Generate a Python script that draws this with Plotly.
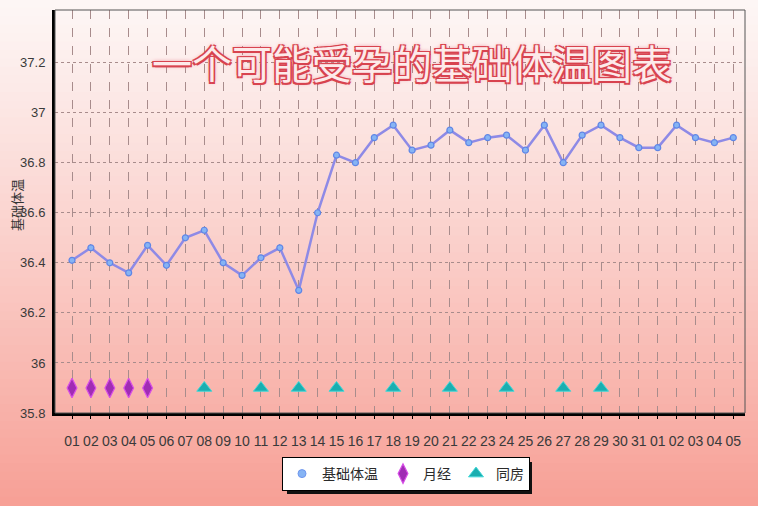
import plotly.graph_objects as go

# day labels (cycle runs from 01 to 31 and then into the next month 01..05)
days = [f"{d:02d}" for d in range(1, 32)] + [f"{d:02d}" for d in range(1, 6)]
temps = [36.41, 36.46, 36.40, 36.36, 36.47, 36.39, 36.50, 36.53, 36.40, 36.35,
         36.42, 36.46, 36.29, 36.60, 36.83, 36.80, 36.90, 36.95, 36.85, 36.87,
         36.93, 36.88, 36.90, 36.91, 36.85, 36.95, 36.80, 36.91, 36.95, 36.90,
         36.86, 36.86, 36.95, 36.90, 36.88, 36.90]
period_idx = [0, 1, 2, 3, 4]
sex_idx = [7, 10, 12, 14, 17, 20, 23, 26, 28]
marker_level = 35.9
ytick_vals = [35.8, 36.0, 36.2, 36.4, 36.6, 36.8, 37.0, 37.2]
ytick_text = ["35.8", "36", "36.2", "36.4", "36.6", "36.8", "37", "37.2"]

x_idx = list(range(len(days)))

# plot area in pixels (758x506 window)
W, H = 758, 506
ml, mr, mt, mb = 55, 13, 10, 93
pw, ph = W - ml - mr, H - mt - mb


def px_x(p):
    return (p - ml) / pw


def px_y(p):
    return (H - mb - p) / ph


fig = go.Figure()

fig.add_trace(go.Scatter(
    x=x_idx, y=temps, mode="lines+markers", name="基础体温", showlegend=False,
    legendgroup="bbt",
    line=dict(color="#8e8ae6", width=2.5),
    marker=dict(symbol="circle", size=6, color="#86b4f4",
                line=dict(color="#5f86e6", width=1.2)),
))
# legend entry for the line shows only the marker, as in the original
fig.add_trace(go.Scatter(
    x=[None], y=[None], mode="markers", name="基础体温", legendgroup="bbt",
    marker=dict(symbol="circle", size=8, color="#86b4f4",
                line=dict(color="#6f96ee", width=1)),
))
fig.add_trace(go.Scatter(
    x=period_idx, y=[marker_level] * len(period_idx), mode="markers", name="月经",
    marker=dict(symbol="diamond-tall", size=14, color="#a02cb4",
                line=dict(color="#d84ee8", width=1.2)),
))
fig.add_trace(go.Scatter(
    x=sex_idx, y=[marker_level] * len(sex_idx), mode="markers", name="同房",
    marker=dict(symbol="triangle-up", size=13, color="#1aaeb0",
                line=dict(color="#40d8d8", width=1)),
))

# background gradient (white-pink at top to salmon at bottom)
shapes = []
n = 60
top_c = (253, 246, 245)
bot_c = (247, 160, 150)
y0p, y1p = px_y(H), px_y(0)
for i in range(n):
    t = i / (n - 1)
    c = tuple(int(round(top_c[k] + (bot_c[k] - top_c[k]) * t ** 1.1)) for k in range(3))
    ya = y1p - (y1p - y0p) * i / n
    yb = y1p - (y1p - y0p) * (i + 1) / n
    shapes.append(dict(type="rect", xref="paper", yref="paper",
                       x0=px_x(-2), x1=px_x(W + 2), y0=yb - 0.002, y1=ya + 0.002,
                       fillcolor="rgb(%d,%d,%d)" % c, line=dict(width=0), layer="below"))

# thin top/right border of plot area
shapes.append(dict(type="rect", xref="paper", yref="paper", x0=0, x1=1, y0=0, y1=1,
                   line=dict(color="#555555", width=1), layer="above"))
# legend drop shadow
shapes.append(dict(type="rect", xref="paper", yref="paper",
                   x0=px_x(287), x1=px_x(532), y0=px_y(494), y1=px_y(462),
                   fillcolor="#111111", line=dict(width=0), layer="above"))
fig.update_layout(shapes=shapes)

fig.add_annotation(
    text="一个可能受孕的基础体温图表", xref="paper", yref="paper",
    x=px_x(412), y=px_y(62), xanchor="center", yanchor="middle", showarrow=False,
    font=dict(family="Noto Sans CJK SC", size=40, weight=400, color="#fdeaea",
              shadow="1.5px 1.5px 0 #d8434f, -1.5px -1.5px 0 #d8434f, 1.5px -1.5px 0 #d8434f, "
                     "-1.5px 1.5px 0 #d8434f, 0 0 4px #e87080"),
)

# y axis title, placed like the original (slightly away from the window edge)
fig.add_annotation(
    text="基础体温", xref="paper", yref="paper", x=px_x(16), y=px_y(205),
    xanchor="center", yanchor="middle", textangle=-90, showarrow=False,
    font=dict(family="Noto Sans CJK SC", size=13, color="#333333"),
)

fig.update_layout(
    width=W, height=H,
    margin=dict(l=ml, r=mr, t=mt, b=mb, autoexpand=False),
    paper_bgcolor="#fbd0ca",
    plot_bgcolor="rgba(0,0,0,0)",
    font=dict(family="Liberation Sans Narrow, Liberation Sans, Arial", color="#333333", size=13),
    showlegend=True,
    legend=dict(orientation="h", x=px_x(282), y=px_y(457), xanchor="left", yanchor="top",
                bgcolor="#ffffff", bordercolor="#000000", borderwidth=1,
                itemwidth=30, tracegroupgap=0,
                font=dict(family="Noto Sans CJK SC", size=14, color="#2a2a2a"),
                itemsizing="trace"),
    xaxis=dict(
        range=[-0.9, 35.62], tickvals=x_idx, ticktext=days, automargin=False,
        showgrid=True, gridcolor="#a88c8c", griddash="dash", gridwidth=1,
        showline=True, linecolor="#000000", linewidth=3,
        ticks="outside", ticklen=3, tickcolor="#000000", ticklabelstandoff=10,
        tickfont=dict(size=14, color="#3a3a3a"), zeroline=False,
    ),
    yaxis=dict(
        range=[35.8, 37.41], tickvals=ytick_vals, ticktext=ytick_text, automargin=False,
        showgrid=True, gridcolor="#a88c8c", griddash="dot", gridwidth=1.2,
        showline=True, linecolor="#000000", linewidth=3,
        ticks="", ticklabelstandoff=4,
        tickfont=dict(size=13, color="#3a3a3a"), zeroline=False,
    ),
)

# drop the default page margin so the chart fills the window exactly
fig.write_html("out.html", config={"displayModeBar": False},
               post_script="document.body.style.margin='0';")
